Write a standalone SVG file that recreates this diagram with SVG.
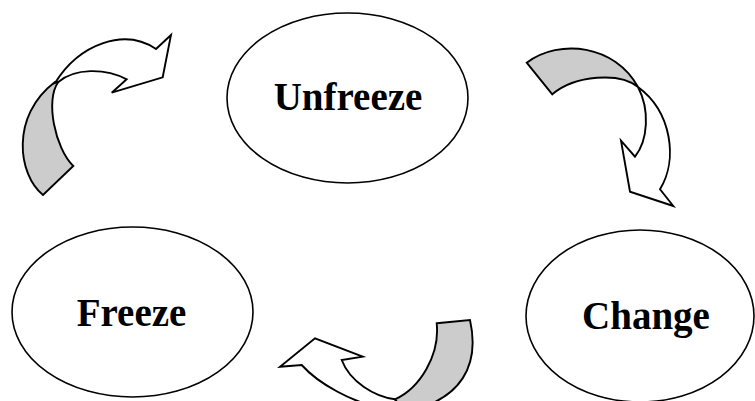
<svg xmlns="http://www.w3.org/2000/svg" width="755" height="401" viewBox="0 0 755 401">
<style>
.node ellipse{fill:#fff;stroke:#000;stroke-width:1.6}
.node text{font-family:"Liberation Serif","DejaVu Serif",serif;font-weight:bold;font-size:39px;text-anchor:middle;fill:#000}
.back{fill:#cccccc;stroke:#000;stroke-width:1.9;stroke-linejoin:miter}
.front{fill:#fff;stroke:#000;stroke-width:1.9;stroke-linejoin:miter}
</style>
<rect width="755" height="401" fill="#fff"/>
<g id="connectors">
  <g id="arrow-freeze-unfreeze">
    <path class="back" d="M43,195 C18,175 10,116 55,82 L58.3,82 C45,100 55,148 73.3,166 Z"/>
    <path class="front" d="M55,83 C80,43 125,28 156,49 L171,35 L162.7,77.3 L111.7,92.7 L126.7,79.3 C105,68 75,68 58.3,82 Z"/>
  </g>
  <g id="arrow-unfreeze-change">
    <path class="back" d="M526.7,62.7 C560,38 615,45 638,87 C620,72 575,75 552.3,94.3 Z"/>
    <path class="front" d="M638,87 C650,110 648,140 635,156.7 L621,140.7 L630,191.7 L673.3,206 L660,189.3 C678,160 672,112 638,87 Z"/>
  </g>
  <g id="arrow-change-freeze">
    <path class="back" d="M436.7,323.3 L470,320 C480,365 462,400 405,412 L395,399.3 C420,388 440,355 436.7,323.3 Z"/>
    <path class="front" d="M395,399.3 C375,397 350,382 341.7,360 L362.7,356.7 L315,338.3 L280,366.7 L301.7,365 C315,380 350,405 400,412 Z"/>
  </g>
</g>
<g id="unfreeze" class="node">
  <ellipse cx="347.5" cy="98" rx="120.5" ry="85"/>
  <text x="348" y="110">Unfreeze</text>
</g>
<g id="freeze" class="node">
  <ellipse cx="132.5" cy="312" rx="120.5" ry="85"/>
  <text x="131.5" y="326">Freeze</text>
</g>
<g id="change" class="node">
  <ellipse cx="640" cy="316" rx="114" ry="86"/>
  <text x="646" y="329">Change</text>
</g>
</svg>
